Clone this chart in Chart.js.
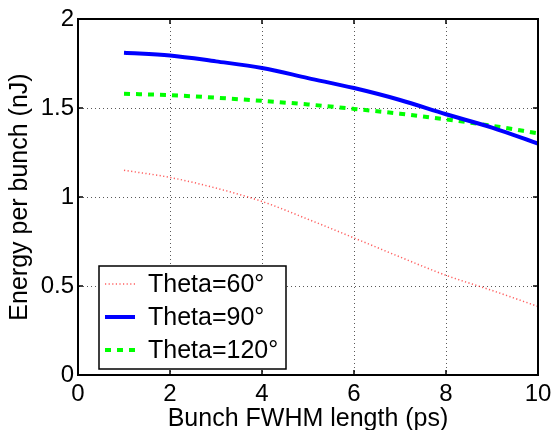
<!DOCTYPE html>
<html>
<head>
<meta charset="utf-8">
<script src="https://cdn.jsdelivr.net/npm/chart.js@4/dist/chart.umd.min.js"></script>
<style>
  html, body { margin: 0; padding: 0; background: #fff; }
  #wrap { width: 554px; height: 430px; }
</style>
</head>
<body>
<div id="wrap"><canvas id="energyChart"></canvas></div>
<script>
// values
const bunchLength = [1, 2, 3, 4, 5, 6, 7, 8, 9, 10]
const theta60 = [1.15, 1.11, 1.05, 0.975, 0.875, 0.77, 0.663, 0.56, 0.475, 0.385]
const theta90 = [1.81, 1.795, 1.762, 1.725, 1.668, 1.612, 1.545, 1.465, 1.39, 1.30]
const theta120 = [1.58, 1.572, 1.558, 1.54, 1.52, 1.495, 1.468, 1.436, 1.40, 1.358]
const seriesNames = ['Theta=60°', 'Theta=90°', 'Theta=120°']
const xTicks = [0, 2, 4, 6, 8, 10]
const yTicks = [0, 0.5, 1, 1.5, 2]

const FONT = 'Liberation Sans, Arial, Helvetica, sans-serif'

function toPoints(ys) {
    return bunchLength.map((x, i) => ({ x: x, y: ys[i] }))
}

// box around the plot + inward tick marks (matlab style)
const framePlugin = {
    id: 'frame',
    afterDraw(chart) {
        const ctx = chart.ctx
        const a = chart.chartArea
        const xs = chart.scales.x
        const ys = chart.scales.y
        ctx.save()
        ctx.strokeStyle = '#000'
        ctx.lineWidth = 1.5
        ctx.beginPath()
        xTicks.forEach(v => {
            const px = xs.getPixelForValue(v)
            ctx.moveTo(px, a.bottom); ctx.lineTo(px, a.bottom - 5)
            ctx.moveTo(px, a.top); ctx.lineTo(px, a.top + 5)
        })
        yTicks.forEach(v => {
            const py = ys.getPixelForValue(v)
            ctx.moveTo(a.left, py); ctx.lineTo(a.left + 5, py)
            ctx.moveTo(a.right, py); ctx.lineTo(a.right - 5, py)
        })
        ctx.stroke()
        ctx.lineWidth = 2
        ctx.strokeRect(a.left, a.top, a.right - a.left, a.bottom - a.top)
        ctx.restore()
    }
}

// legend box in lower left corner of the axes
const boxLegend = {
    id: 'boxLegend',
    afterDraw(chart) {
        const ctx = chart.ctx
        const a = chart.chartArea
        const left = a.left + 21, top = a.bottom - 109, w = 187, h = 103
        ctx.save()
        ctx.fillStyle = '#fff'
        ctx.fillRect(left, top, w, h)
        ctx.strokeStyle = '#000'
        ctx.lineWidth = 1.5
        ctx.strokeRect(left, top, w, h)
        ctx.font = '25px ' + FONT
        ctx.textBaseline = 'middle'
        ctx.textAlign = 'left'
        chart.data.datasets.forEach((ds, i) => {
            const y = top + 18 + i * 33
            ctx.beginPath()
            ctx.strokeStyle = ds.borderColor
            ctx.lineWidth = ds.borderWidth
            ctx.setLineDash(ds.borderDash || [])
            ctx.moveTo(left + 6, y)
            ctx.lineTo(left + 36, y)
            ctx.stroke()
            ctx.setLineDash([])
            ctx.fillStyle = '#000'
            ctx.fillText(ds.label, left + 49, y + 1)
        })
        ctx.restore()
    }
}

const dataEnergy = {
    datasets: [
        {
            label: seriesNames[0],
            data: toPoints(theta60),
            borderColor: 'rgba(255, 40, 40, 0.75)',
            borderWidth: 1.5,
            borderDash: [1.2, 2.4]
        },
        {
            label: seriesNames[1],
            data: toPoints(theta90),
            borderColor: '#0000ff',
            borderWidth: 4
        },
        {
            label: seriesNames[2],
            data: toPoints(theta120),
            borderColor: '#00ff00',
            borderWidth: 4,
            borderDash: [6, 6]
        }
    ]
}

const configEnergy = {
    type: 'line',
    data: dataEnergy,
    options: {
        responsive: true,
        maintainAspectRatio: false,
        animation: false,
        layout: { padding: { left: 0, right: 16, top: 19, bottom: 0 } },
        elements: {
            point: { radius: 0 },
            line: { cubicInterpolationMode: 'monotone', fill: false }
        },
        plugins: {
            legend: { display: false },
            tooltip: { enabled: false }
        },
        scales: {
            x: {
                type: 'linear',
                min: 0,
                max: 10,
                afterFit: s => {
                    s.height = 55
                    s.paddingLeft = 0
                    s.paddingRight = 0
                },
                afterBuildTicks: s => { s.ticks = xTicks.map(v => ({ value: v })) },
                grid: { color: 'rgba(0,0,0,0.65)', lineWidth: 1, drawTicks: false },
                border: { display: true, color: '#000', width: 2, dash: [1, 3] },
                ticks: { color: '#000', padding: 7, font: { family: FONT, size: 24, lineHeight: 1 } },
                title: {
                    display: true,
                    text: 'Bunch FWHM length (ps)',
                    color: '#000',
                    font: { family: FONT, size: 25, lineHeight: 1 },
                    padding: { top: 0, bottom: -2 }
                }
            },
            y: {
                min: 0,
                max: 2,
                afterFit: s => {
                    s.width = 78
                    s.paddingTop = 0
                    s.paddingBottom = 0
                },
                afterBuildTicks: s => { s.ticks = yTicks.map(v => ({ value: v })) },
                grid: { color: 'rgba(0,0,0,0.65)', lineWidth: 1, drawTicks: false },
                border: { display: true, color: '#000', width: 2, dash: [1, 3] },
                ticks: {
                    color: '#000',
                    padding: 4,
                    font: { family: FONT, size: 24, lineHeight: 1 },
                    callback: v => String(v)
                },
                title: {
                    display: true,
                    text: 'Energy per bunch (nJ)',
                    color: '#000',
                    font: { family: FONT, size: 25, lineHeight: 1 },
                    padding: { top: 8, bottom: 0 }
                }
            }
        }
    },
    plugins: [framePlugin, boxLegend]
}

const ctxEnergy = document.getElementById('energyChart').getContext('2d')
new Chart(ctxEnergy, configEnergy)
</script>
</body>
</html>
